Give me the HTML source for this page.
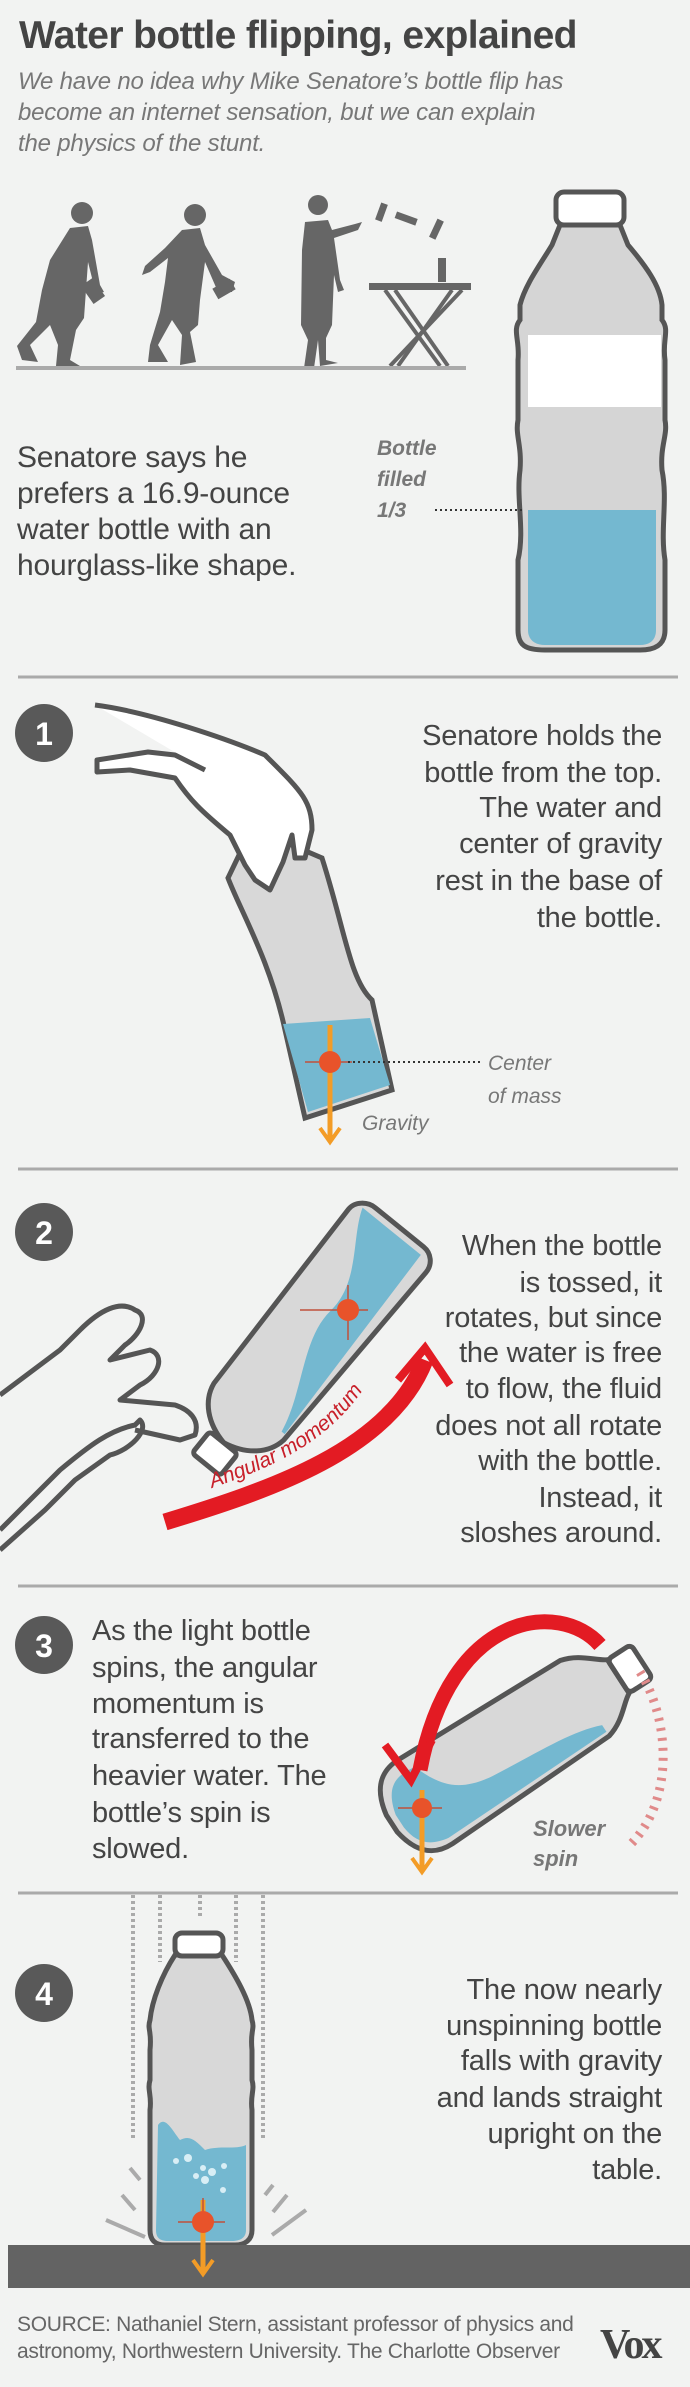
<!DOCTYPE html>
<html><head><meta charset="utf-8"><style>
html,body{margin:0;padding:0;background:#f2f3f2;}
svg{display:block;}
text{font-family:"Liberation Sans",sans-serif;}
.b{font-size:29px;fill:#444;letter-spacing:-0.2px;}
.it{font-style:italic;fill:#777;}
</style></head><body>
<svg width="690" height="2387" viewBox="0 0 690 2387" xmlns="http://www.w3.org/2000/svg">
<rect width="690" height="2387" fill="#f2f3f2"/>
<!-- Title -->
<text x="19" y="48" font-size="39" font-weight="bold" fill="#444" letter-spacing="-0.6">Water bottle flipping, explained</text>
<text x="18" y="89" font-size="24" class="it" fill="#808080" letter-spacing="-0.2">We have no idea why Mike Senatore’s bottle flip has</text>
<text x="18" y="120" font-size="24" class="it" fill="#808080" letter-spacing="-0.2">become an internet sensation, but we can explain</text>
<text x="18" y="151" font-size="24" class="it" fill="#808080" letter-spacing="-0.2">the physics of the stunt.</text>

<!-- silhouettes -->
<g fill="#666">
<circle cx="82" cy="213" r="11"/>
<path d="M70 228 L88 226 L92 240 L100 285 L104 292 L96 294 L88 262 L84 318 L76 330 L70 360 L80 366 L56 366 L58 345 L50 325 L30 345 L38 362 L22 360 L17 346 L36 322 L42 290 L50 260 Z"/>
<rect x="86" y="280" width="14" height="22" transform="rotate(-35 93 291)"/>
<circle cx="195" cy="215" r="11"/>
<path d="M182 230 L200 228 L205 245 L222 275 L235 282 L232 292 L218 292 L205 262 L200 300 L198 325 L190 332 L196 362 L180 365 L182 335 L172 320 L158 345 L168 362 L148 362 L150 345 L160 312 L165 282 L168 258 L150 272 L142 275 L145 266 L165 248 Z"/>
<rect x="218" y="279" width="12" height="20" transform="rotate(60 224 289)"/>
<circle cx="318" cy="205" r="10"/>
<path d="M305 222 L328 220 L332 230 L355 224 L362 222 L358 230 L334 238 L340 280 L344 290 L338 292 L334 275 L332 325 L326 338 L326 360 L338 363 L320 366 L318 340 L314 368 L304 368 L308 340 L301 325 L302 250 Z"/>
<rect x="378" y="203" width="7" height="18" transform="rotate(20 381 212)"/>
<rect x="403" y="208" width="7" height="22" transform="rotate(-70 406 219)"/>
<rect x="433" y="219" width="7" height="20" transform="rotate(25 436 229)"/>
<rect x="438" y="258" width="8" height="24"/>
<rect x="369" y="283" width="102" height="7"/>
</g>
<g stroke="#666" stroke-width="4">
<line x1="385" y1="290" x2="440" y2="366"/><line x1="395" y1="290" x2="448" y2="366"/>
<line x1="462" y1="290" x2="390" y2="366"/><line x1="452" y1="290" x2="398" y2="366"/>
</g>
<line x1="16" y1="368" x2="466" y2="368" stroke="#aaa" stroke-width="4"/>

<!-- big bottle -->
<path d="M560 225 L620 225 L628 245 C645 265 660 285 662 305 L662 320 C670 330 662 340 665 360 L665 420 C668 435 660 445 662 470 C668 500 660 530 665 560 L665 630 C665 645 655 650 640 650 L545 650 C525 650 518 645 518 630 L518 560 C525 530 516 500 520 470 C522 445 515 435 518 420 L518 360 C520 340 512 330 520 320 L520 305 C525 285 540 265 552 245 Z" fill="#d5d5d5" stroke="#555" stroke-width="5"/>
<path d="M528 510 L656 510 L656 630 C656 640 650 645 640 645 L545 645 C535 645 528 640 528 630 Z" fill="#74b8d0"/>
<rect x="528" y="335" width="133" height="72" fill="#fff"/>
<rect x="556" y="192" width="68" height="33" rx="8" fill="#fff" stroke="#555" stroke-width="5"/>
<g font-size="30" fill="#444" letter-spacing="-0.2">
<text x="17" y="467">Senatore says he</text>
<text x="17" y="503">prefers a 16.9-ounce</text>
<text x="17" y="539">water bottle with an</text>
<text x="17" y="575">hourglass-like shape.</text>
</g>
<text x="377" y="455" font-size="21" font-weight="bold" class="it">Bottle</text>
<text x="377" y="486" font-size="21" font-weight="bold" class="it">filled</text>
<text x="377" y="517" font-size="21" font-weight="bold" class="it">1/3</text>
<line x1="435" y1="510" x2="522" y2="510" stroke="#333" stroke-width="2" stroke-dasharray="2 3"/>

<!-- dividers -->
<g stroke="#aaa" stroke-width="3">
<line x1="18" y1="677" x2="678" y2="677"/>
<line x1="18" y1="1169" x2="678" y2="1169"/>
<line x1="18" y1="1586" x2="678" y2="1586"/>
<line x1="18" y1="1893" x2="678" y2="1893"/>
</g>

<!-- step circles -->
<g fill="#595959"><circle cx="44" cy="733" r="29"/><circle cx="44" cy="1232" r="29"/><circle cx="44" cy="1645" r="29"/><circle cx="44" cy="1993" r="29"/></g>
<g fill="#fff" font-size="32" font-weight="bold" text-anchor="middle">
<text x="44" y="745">1</text><text x="44" y="1244">2</text><text x="44" y="1657">3</text><text x="44" y="2005">4</text></g>

<!-- step 1 -->
<path d="M252 828 L322 858 C345 930 350 980 372 1000 L392 1090 L305 1118 L285 1030 C270 960 240 910 228 878 Z" fill="#d8d8d8" stroke="#555" stroke-width="5"/>
<path d="M283 1024 L370 1018 L390 1085 L308 1112 Z" fill="#74b8d0"/>
<path d="M95 705 C150 712 230 740 265 755 C300 790 312 800 312 830 L305 858 L295 858 L292 835 L283 862 L270 890 L255 880 L245 865 L230 835 C200 810 190 800 175 778 L130 770 L97 772 L97 760 L148 752 L175 755 L205 770" fill="#fff" stroke="#555" stroke-width="5" stroke-linejoin="round"/>
<line x1="330" y1="1025" x2="330" y2="1140" stroke="#f39c27" stroke-width="5"/>
<path d="M320 1128 L330 1142 L340 1128" fill="none" stroke="#f39c27" stroke-width="4"/>
<line x1="305" y1="1062" x2="352" y2="1062" stroke="#c0503a" stroke-width="1.5"/>
<circle cx="330" cy="1062" r="11" fill="#e8532a"/>
<line x1="348" y1="1062" x2="480" y2="1062" stroke="#333" stroke-width="2" stroke-dasharray="2 3"/>
<text x="488" y="1070" font-size="21" class="it">Center</text>
<text x="488" y="1103" font-size="21" class="it">of mass</text>
<text x="362" y="1130" font-size="21" class="it">Gravity</text>
<g text-anchor="end">
<text x="662" y="745" class="b">Senatore holds the</text>
<text x="662" y="782" class="b">bottle from the top.</text>
<text x="662" y="817" class="b">The water and</text>
<text x="662" y="853" class="b">center of gravity</text>
<text x="662" y="890" class="b">rest in the base of</text>
<text x="662" y="927" class="b">the bottle.</text>
</g>

<!-- step 2 -->
<g transform="rotate(-51 315 1330)">
<path d="M170 1330 C175 1305 190 1288 210 1285 L430 1280 C440 1280 448 1290 448 1300 L448 1362 C448 1372 440 1380 430 1380 L210 1375 C190 1372 175 1355 170 1330 Z" fill="#d8d8d8" stroke="#555" stroke-width="5"/>
<path d="M215 1368 C260 1360 300 1325 340 1330 C380 1335 410 1300 440 1290 L440 1365 L215 1372 Z" fill="#74b8d0"/>
<rect x="142" y="1312" width="28" height="36" rx="4" fill="#fff" stroke="#555" stroke-width="5"/>
</g>
<path d="M0 1530 L60 1470 C90 1445 110 1430 135 1425 L140 1420 C150 1430 130 1450 110 1455 L75 1480 L45 1510 L0 1550 M0 1395 L60 1350 L80 1330 C100 1310 120 1300 135 1310 C150 1315 140 1335 125 1345 L110 1360 L150 1350 C165 1355 160 1375 140 1385 L120 1400 L175 1405 C190 1410 200 1420 195 1435 L180 1440 L135 1430" fill="none" stroke="#555" stroke-width="5" stroke-linejoin="round"/>
<path d="M165 1522 C270 1490 390 1450 425 1360" fill="none" stroke="#e31b23" stroke-width="17"/>
<path d="M398 1380 L425 1348 L450 1385" fill="none" stroke="#e31b23" stroke-width="8"/>
<line x1="300" y1="1310" x2="368" y2="1310" stroke="#c0503a" stroke-width="1.5"/>
<line x1="348" y1="1285" x2="348" y2="1340" stroke="#c0503a" stroke-width="1.5"/>
<circle cx="348" cy="1310" r="11" fill="#e8532a"/>
<path id="amt" d="M212 1488 C280 1465 345 1435 380 1360" fill="none"/>
<text font-size="21" font-style="italic" fill="#c8202a"><textPath href="#amt">Angular momentum</textPath></text>
<g text-anchor="end">
<text x="662" y="1255" class="b">When the bottle</text>
<text x="662" y="1292" class="b">is tossed, it</text>
<text x="662" y="1327" class="b">rotates, but since</text>
<text x="662" y="1362" class="b">the water is free</text>
<text x="662" y="1398" class="b">to flow, the fluid</text>
<text x="662" y="1435" class="b">does not all rotate</text>
<text x="662" y="1470" class="b">with the bottle.</text>
<text x="662" y="1507" class="b">Instead, it</text>
<text x="662" y="1542" class="b">sloshes around.</text>
</g>

<!-- step 3 -->
<g transform="rotate(-33 505 1750)">
<path d="M370 1740 C375 1710 390 1700 410 1700 L600 1705 C620 1710 630 1725 640 1730 L640 1770 C630 1775 620 1790 600 1795 L410 1800 C390 1800 375 1790 370 1760 Z" fill="#d8d8d8" stroke="#555" stroke-width="5"/>
<path d="M378 1745 C385 1715 400 1712 420 1715 C430 1740 440 1760 480 1765 C530 1770 570 1770 600 1782 L600 1790 L410 1793 C390 1790 380 1780 378 1760 Z" fill="#74b8d0"/>
<rect x="640" y="1730" width="28" height="40" rx="5" fill="#fff" stroke="#555" stroke-width="5"/>
</g>
<path d="M600 1645 C560 1600 450 1610 420 1770" fill="none" stroke="#e31b23" stroke-width="15"/>
<path d="M385 1745 L411 1780 L432 1740" fill="none" stroke="#e31b23" stroke-width="8"/>
<path d="M640 1672 C670 1720 675 1800 630 1845" fill="none" stroke="#e08a8a" stroke-width="9" stroke-dasharray="3 7"/>
<line x1="422" y1="1790" x2="422" y2="1870" stroke="#f39c27" stroke-width="5"/>
<path d="M412 1858 L422 1872 L432 1858" fill="none" stroke="#f39c27" stroke-width="4"/>
<line x1="398" y1="1808" x2="442" y2="1808" stroke="#c0503a" stroke-width="1.5"/>
<circle cx="422" cy="1808" r="10" fill="#e8532a"/>
<text x="533" y="1836" font-size="22" font-weight="bold" class="it">Slower</text>
<text x="533" y="1866" font-size="22" font-weight="bold" class="it">spin</text>
<g>
<text x="92" y="1640" class="b">As the light bottle</text>
<text x="92" y="1677" class="b">spins, the angular</text>
<text x="92" y="1713" class="b">momentum is</text>
<text x="92" y="1748" class="b">transferred to the</text>
<text x="92" y="1785" class="b">heavier water. The</text>
<text x="92" y="1822" class="b">bottle’s spin is</text>
<text x="92" y="1858" class="b">slowed.</text>
</g>

<!-- step 4 -->
<g stroke="#aaa" stroke-width="4" stroke-dasharray="3 3">
<line x1="133" y1="1895" x2="133" y2="2138"/><line x1="160" y1="1895" x2="160" y2="1962"/>
<line x1="200" y1="1895" x2="200" y2="1918"/><line x1="236" y1="1895" x2="236" y2="1962"/>
<line x1="263" y1="1895" x2="263" y2="2138"/></g>
<path d="M175 1955 L222 1955 C235 1975 250 2000 252 2020 C255 2030 250 2030 252 2050 L252 2080 C255 2090 250 2095 252 2110 L252 2230 C252 2240 245 2245 235 2245 L165 2245 C155 2245 150 2240 150 2230 L150 2110 C152 2095 147 2090 150 2080 L150 2050 C152 2030 147 2030 150 2020 C152 2000 162 1975 175 1955 Z" fill="#d8d8d8" stroke="#555" stroke-width="5"/>
<path d="M158 2125 C165 2115 172 2130 180 2140 C190 2135 195 2140 205 2150 C220 2145 235 2150 246 2145 L246 2230 C246 2238 240 2241 232 2241 L168 2241 C160 2241 156 2238 156 2230 Z" fill="#74b8d0"/>
<rect x="175" y="1933" width="48" height="23" rx="7" fill="#fff" stroke="#555" stroke-width="5"/>
<g fill="#d8eef5"><circle cx="176" cy="2161" r="3"/><circle cx="188" cy="2158" r="4"/><circle cx="203" cy="2168" r="3"/><circle cx="212" cy="2172" r="4"/><circle cx="196" cy="2176" r="3"/><circle cx="205" cy="2180" r="4"/><circle cx="224" cy="2166" r="3"/><circle cx="223" cy="2190" r="3"/></g>
<g stroke="#aaa" stroke-width="4"><line x1="130" y1="2168" x2="140" y2="2180"/><line x1="122" y1="2195" x2="135" y2="2210"/><line x1="106" y1="2220" x2="145" y2="2237"/><line x1="273" y1="2185" x2="265" y2="2195"/><line x1="287" y1="2195" x2="273" y2="2212"/><line x1="306" y1="2210" x2="272" y2="2235"/></g>
<rect x="8" y="2245" width="682" height="43" fill="#636363"/>
<line x1="203" y1="2200" x2="203" y2="2272" stroke="#f39c27" stroke-width="5"/>
<path d="M193 2260 L203 2274 L213 2260" fill="none" stroke="#f39c27" stroke-width="4"/>
<line x1="178" y1="2222" x2="225" y2="2222" stroke="#c0503a" stroke-width="1.5"/>
<line x1="203" y1="2198" x2="203" y2="2222" stroke="#c0503a" stroke-width="1.5"/>
<circle cx="203" cy="2222" r="11" fill="#e8532a"/>
<g text-anchor="end">
<text x="662" y="1999" class="b">The now nearly</text>
<text x="662" y="2035" class="b">unspinning bottle</text>
<text x="662" y="2070" class="b">falls with gravity</text>
<text x="662" y="2107" class="b">and lands straight</text>
<text x="662" y="2143" class="b">upright on the</text>
<text x="662" y="2179" class="b">table.</text>
</g>

<text x="17" y="2331" font-size="21" fill="#666" letter-spacing="-0.3">SOURCE: Nathaniel Stern, assistant professor of physics and</text>
<text x="17" y="2358" font-size="21" fill="#666" letter-spacing="-0.3">astronomy, Northwestern University. The Charlotte Observer</text>
<text x="600" y="2358" font-size="42" font-weight="bold" fill="#444" letter-spacing="-3" style="font-family:'Liberation Serif',serif">Vox</text>
</svg>
</body></html>
